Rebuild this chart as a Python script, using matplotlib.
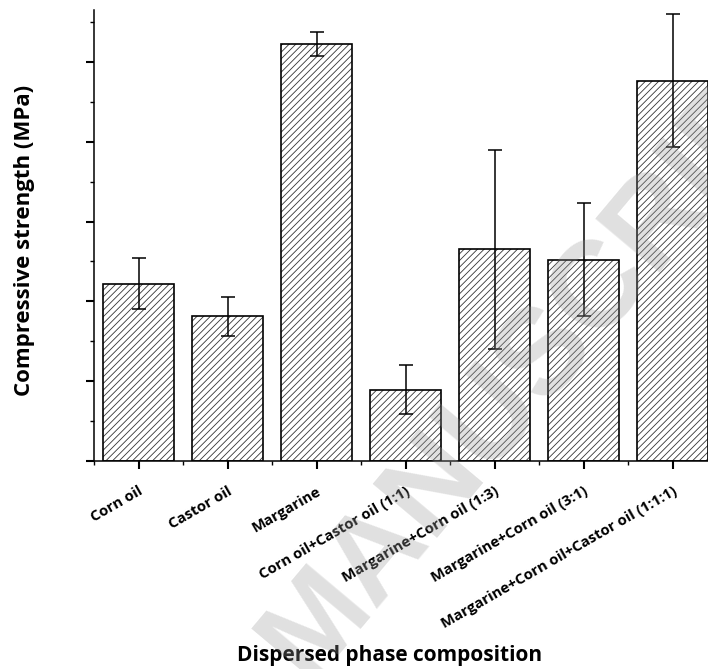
import matplotlib
matplotlib.use("Agg")
import matplotlib.pyplot as plt
from matplotlib.ticker import MultipleLocator, FixedLocator, NullFormatter

categories = ["Corn oil", "Castor oil", "Margarine", "Corn oil+Castor oil (1:1)",
              "Margarine+Corn oil (1:3)", "Margarine+Corn oil (3:1)",
              "Margarine+Corn oil+Castor oil (1:1:1)"]
strength = [2.22, 1.81, 5.23, 0.89, 2.65, 2.52, 4.77]
errors = [0.32, 0.25, 0.15, 0.31, 1.25, 0.71, 0.83]

plt.rcParams['hatch.linewidth'] = 0.6
plt.rcParams['hatch.color'] = '#333333'

fig = plt.figure(figsize=(7.08, 6.69), dpi=100)
ax = fig.add_axes([94/708, 1 - 460.7/669, 623/708, 450.7/669])

x = list(range(len(categories)))
ax.bar(x, strength, width=0.8, color='white', edgecolor='#333333', hatch='/////',
       linewidth=0, zorder=2)
ax.bar(x, strength, width=0.8, fill=False, edgecolor='black', linewidth=1.2, zorder=3)
ax.errorbar(x, strength, yerr=errors, fmt='none', ecolor='black', elinewidth=1.1,
            capsize=5, capthick=1.1, zorder=4)

ax.set_xlim(-0.5, 6.5)
ax.set_ylim(0, 5.655)
ax.spines['top'].set_visible(False)
ax.spines['right'].set_visible(False)
ax.spines['left'].set_linewidth(1.1)
ax.spines['bottom'].set_linewidth(1.1)

ax.yaxis.set_major_locator(MultipleLocator(1))
ax.yaxis.set_minor_locator(MultipleLocator(0.5))
ax.yaxis.set_major_formatter(NullFormatter())
ax.tick_params(axis='y', which='major', length=6, width=1.5, direction='out')
ax.tick_params(axis='y', which='minor', length=3, width=1.0, direction='out')

ax.set_xticks(x)
ax.xaxis.set_minor_locator(FixedLocator([i - 0.5 for i in range(7)]))
ax.tick_params(axis='x', which='major', length=6, width=1.5, direction='out', pad=11)
ax.tick_params(axis='x', which='minor', length=3, width=1.0, direction='out')
ax.set_xticklabels(categories, rotation=30, ha='right', rotation_mode='anchor',
                   fontsize=10.7, fontweight='bold', family='Open Sans')

fig.text(25/708, 1 - 240/669, "Compressive strength (MPa)", rotation=90,
         ha='center', va='center', fontsize=16, fontweight='bold', family='Open Sans')
fig.text(390/708, 1 - 655/669, "Dispersed phase composition",
         ha='center', va='center', fontsize=15, fontweight='bold', family='Open Sans')

fig.text(545/708, 1 - 350/669, "MANUSCRIPT", rotation=50, ha='center', va='center',
         fontsize=88, fontweight='bold', family='Liberation Sans', color='#9a9a9a',
         alpha=0.3, zorder=10)

fig.savefig("out.png", dpi=100)
